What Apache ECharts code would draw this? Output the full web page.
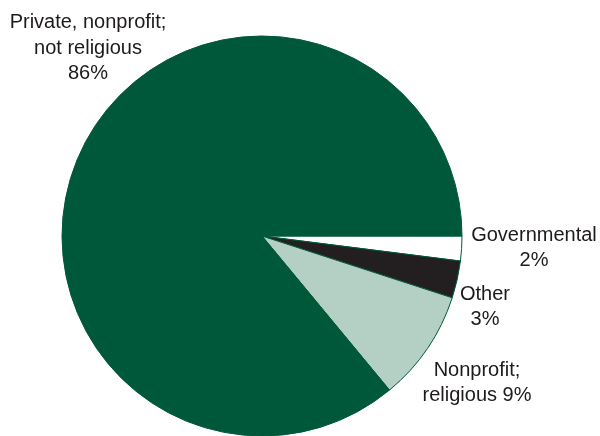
<!DOCTYPE html>
<html>
<head>
<meta charset="utf-8">
<script src="https://cdn.jsdelivr.net/npm/echarts@6/dist/echarts.min.js"></script>
<style>
html,body{margin:0;padding:0;background:#fff;}
#chart{width:600px;height:436px;}
</style>
</head>
<body>
<div id="chart"></div>
<script>
// Data (clockwise from 3 o'clock)
var categories = ['Governmental', 'Other', 'Nonprofit;\nreligious', 'Private, nonprofit;\nnot religious'];
var values = [2, 3, 9, 86];
var separators = ['\n', '\n', ' ', '\n'];
var colors = ['#ffffff', '#231f20', '#b4cfc4', '#00583a'];

// Label anchor points (layout only)
var labelAnchors = [[534, 248], [485, 307], [477, 383], [88, 48]];

var chart = echarts.init(document.getElementById('chart'), null, {renderer: 'canvas'});
var data = categories.map(function (c, i) {
  return { name: c, value: values[i], itemStyle: { color: colors[i] } };
});
chart.setOption({
  animation: false,
  series: [{
    type: 'pie',
    center: [262, 236],
    radius: [0, 200],
    startAngle: 0,
    clockwise: true,
    avoidLabelOverlap: false,
    data: data,
    itemStyle: { borderColor: '#00583a', borderWidth: 1 },
    label: {
      show: true,
      position: 'outside',
      color: '#1e1a1b',
      fontFamily: '"Liberation Sans", Arial, Helvetica, sans-serif',
      fontSize: 20,
      lineHeight: 25.5,
      align: 'center',
      formatter: function (p) {
        return p.name + separators[p.dataIndex] + p.value + '%';
      }
    },
    labelLine: { show: false },
    labelLayout: function (p) {
      var a = labelAnchors[p.dataIndex];
      return { x: a[0], y: a[1], align: 'center', verticalAlign: 'middle', hideOverlap: false };
    },
    emphasis: { disabled: true }
  }]
});
</script>
</body>
</html>
